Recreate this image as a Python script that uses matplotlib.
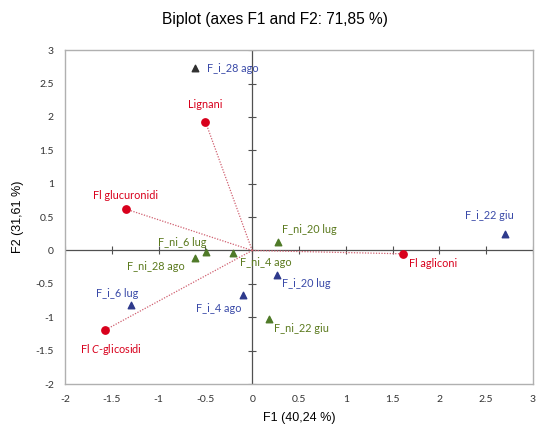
import matplotlib
matplotlib.use("Agg")
import matplotlib.pyplot as plt

plt.rcParams['font.family'] = ['Lato', 'DejaVu Sans']
plt.rcParams['mathtext.fontset'] = 'custom'
plt.rcParams['mathtext.it'] = 'Lato:italic'
plt.rcParams['mathtext.rm'] = 'Lato'

# Active variables (loadings on F1/F2)
var_names = ["Lignani", "Fl glucuronidi", "Fl agliconi", "Fl $\\it{C}$-glicosidi"]
var_f1 = [-0.50, -1.35, 1.61, -1.57]
var_f2 = [1.93, 0.62, -0.05, -1.19]

# Observations (scores on F1/F2)
obs_names = ["F_i_28 ago", "F_i_22 giu", "F_ni_20 lug", "F_ni_6 lug", "F_ni_28 ago",
             "F_ni_4 ago", "F_i_20 lug", "F_i_4 ago", "F_ni_22 giu", "F_i_6 lug"]
obs_f1 = [-0.61, 2.70, 0.28, -0.49, -0.61, -0.20, 0.27, -0.10, 0.18, -1.30]
obs_f2 = [2.73, 0.25, 0.12, -0.03, -0.12, -0.04, -0.36, -0.67, -1.03, -0.82]

x_ticks = [-2, -1.5, -1, -0.5, 0, 0.5, 1, 1.5, 2, 2.5, 3]
y_ticks = [-2, -1.5, -1, -0.5, 0, 0.5, 1, 1.5, 2, 2.5, 3]

red = "#d8001c"
blue = "#2e3a8c"
green = "#4f7a28"
blue_txt = "#3a4aa8"
green_txt = "#5b7a1e"

# label offsets in pixels (dx, dy, ha, va)
var_off = [
    (0, 12, "center", "bottom"),
    (0, 8, "center", "bottom"),
    (6, -4, "left", "top"),
    (-25, -12, "left", "top"),
]
obs_off = {
    "F_i_28 ago": (12, 0, "left", "center"),
    "F_i_22 giu": (-15, 13, "center", "bottom"),
    "F_ni_20 lug": (4, 7, "left", "bottom"),
    "F_ni_6 lug": (-24, 4, "center", "bottom"),
    "F_ni_28 ago": (-39, -3, "center", "top"),
    "F_ni_4 ago": (7, -4, "left", "top"),
    "F_i_20 lug": (5, -3, "left", "top"),
    "F_i_4 ago": (-24, -8, "center", "top"),
    "F_ni_22 giu": (5, -4, "left", "top"),
    "F_i_6 lug": (-13, 6, "center", "bottom"),
}

fig = plt.figure(figsize=(5.36, 4.32), dpi=100)
ax = fig.add_axes([0.1213, 0.111, 0.873, 0.773])
ax.set_xlim(-2, 3)
ax.set_ylim(-2, 3)

for sp in ax.spines.values():
    sp.set_color("#b0b0b0")
    sp.set_linewidth(1.0)

# zero lines
ax.axhline(0, color="#505050", lw=0.9, zorder=1)
ax.axvline(0, color="#505050", lw=0.9, zorder=1)
# small tick marks on the zero lines
for t in y_ticks:
    ax.plot([0], [t], marker="_", color="#505050", ms=6, mew=0.8, zorder=1)
for t in x_ticks:
    ax.plot([t], [0], marker="|", color="#505050", ms=6, mew=0.8, zorder=1)

# vectors from origin
for x, y in zip(var_f1, var_f2):
    ax.plot([0, x], [0, y], color="#d06070", lw=0.9, ls=(0, (1, 1.2)), zorder=2)
ax.scatter(var_f1, var_f2, s=28, color=red, zorder=4)
for n, x, y, off in zip(var_names, var_f1, var_f2, var_off):
    dx, dy, ha, va = off
    ax.annotate(n, (x, y), xytext=(dx, dy), textcoords="offset pixels",
                ha=ha, va=va, fontsize=7.8, color=red)

for n, x, y in zip(obs_names, obs_f1, obs_f2):
    if n == "F_i_28 ago":
        c, tc = "#303030", blue_txt
    elif n.startswith("F_i_"):
        c, tc = blue, blue_txt
    else:
        c, tc = green, green_txt
    ax.scatter([x], [y], marker="^", s=22, color=c, zorder=4)
    dx, dy, ha, va = obs_off[n]
    ax.annotate(n, (x, y), xytext=(dx, dy), textcoords="offset pixels",
                ha=ha, va=va, fontsize=7.8, color=tc)

ax.set_xticks(x_ticks)
ax.set_yticks(y_ticks)
ax.set_xticklabels([f"{t:g}" for t in x_ticks])
ax.set_yticklabels([f"{t:g}" for t in y_ticks])
ax.tick_params(length=0, labelsize=7.5, colors="#333333", pad=8)

label_font = ['Liberation Sans', 'DejaVu Sans']
ax.set_xlabel("F1 (40,24 %)", fontsize=9, labelpad=6, family=label_font)
ax.set_ylabel("F2 (31,61 %)", fontsize=9, labelpad=8, family=label_font)
fig.text(0.513, 0.956, "Biplot (axes F1 and F2: 71,85 %)", ha="center", va="center",
         fontsize=11.2, family=label_font)

fig.savefig("out.png", dpi=100)
